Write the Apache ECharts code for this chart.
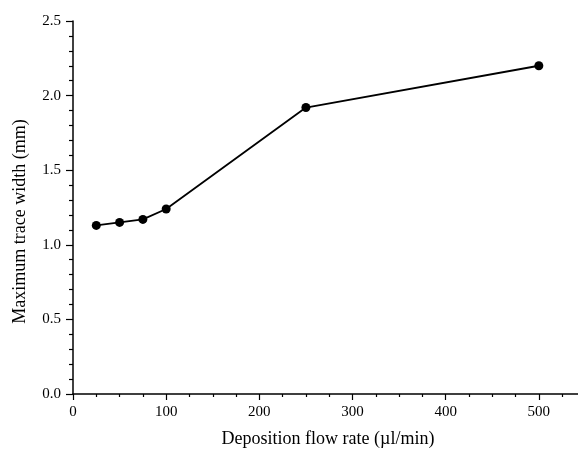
<!DOCTYPE html>
<html>
<head>
    <meta charset="utf-8">
    <title>Maximum trace width</title>
    <script type="text/javascript" src="https://cdn.jsdelivr.net/npm/echarts@6/dist/echarts.min.js"></script>
    <style>
        html, body { margin: 0; padding: 0; background: #fff; }
    </style>
</head>
<body>
<div id="main" style="width:578px;height:453px;"></div>
<script type="text/javascript">
    // data
    var flowRate = [25, 50, 75, 100, 250, 500];
    var traceWidth = [1.13, 1.15, 1.17, 1.24, 1.92, 2.20];
    var xTicks = [0, 100, 200, 300, 400, 500];
    var yTicks = [0.0, 0.5, 1.0, 1.5, 2.0, 2.5];

    var points = [];
    for (var i = 0; i < flowRate.length; i++) {
        points.push([flowRate[i], traceWidth[i]]);
    }

    var font = 'Liberation Serif';
    var myChart = echarts.init(document.getElementById('main'));

    var option = {
        animation: false,
        backgroundColor: '#fff',
        // axis runs past the right edge, like the original
        grid: { left: 73, right: -54, top: 21, bottom: 59, containLabel: false, outerBoundsMode: 'none' },
        xAxis: {
            type: 'value',
            min: 0,
            max: 600,
            interval: 100,
            name: 'Deposition flow rate (\u00b5l/min)',
            nameLocation: 'middle',
            nameGap: 36,
            nameTextStyle: { fontFamily: font, fontSize: 18, color: '#000', padding: [0, 49, 0, 0] },
            axisLine: { lineStyle: { color: '#000', width: 1.5 } },
            axisTick: { inside: false, length: 6, lineStyle: { color: '#000', width: 1.2 } },
            minorTick: { show: true, splitNumber: 4, length: 3, lineStyle: { color: '#000', width: 1.2 } },
            axisLabel: {
                margin: 11,
                fontFamily: font, fontSize: 15, color: '#000',
                formatter: function (v) { return xTicks.indexOf(v) >= 0 ? String(v) : ''; }
            },
            splitLine: { show: false }
        },
        yAxis: {
            type: 'value',
            min: 0,
            max: 2.5,
            interval: 0.5,
            name: 'Maximum trace width (mm)',
            nameLocation: 'middle',
            nameGap: 44,
            nameTextStyle: { fontFamily: font, fontSize: 18, color: '#000', padding: [0, 28, 0, 0] },
            axisLine: { lineStyle: { color: '#000', width: 1.5 } },
            axisTick: { inside: false, length: 7, lineStyle: { color: '#000', width: 1.2 } },
            minorTick: { show: true, splitNumber: 5, length: 4, lineStyle: { color: '#000', width: 1.2 } },
            axisLabel: {
                margin: 12,
                fontFamily: font, fontSize: 15, color: '#000',
                formatter: function (v) {
                    for (var k = 0; k < yTicks.length; k++) {
                        if (Math.abs(yTicks[k] - v) < 1e-6) return yTicks[k].toFixed(1);
                    }
                    return '';
                }
            },
            splitLine: { show: false }
        },
        series: [{
            type: 'line',
            data: points,
            symbol: 'circle',
            symbolSize: 9,
            itemStyle: { color: '#000' },
            lineStyle: { color: '#000', width: 1.8 }
        }]
    };
    myChart.setOption(option);
</script>
</body>
</html>
